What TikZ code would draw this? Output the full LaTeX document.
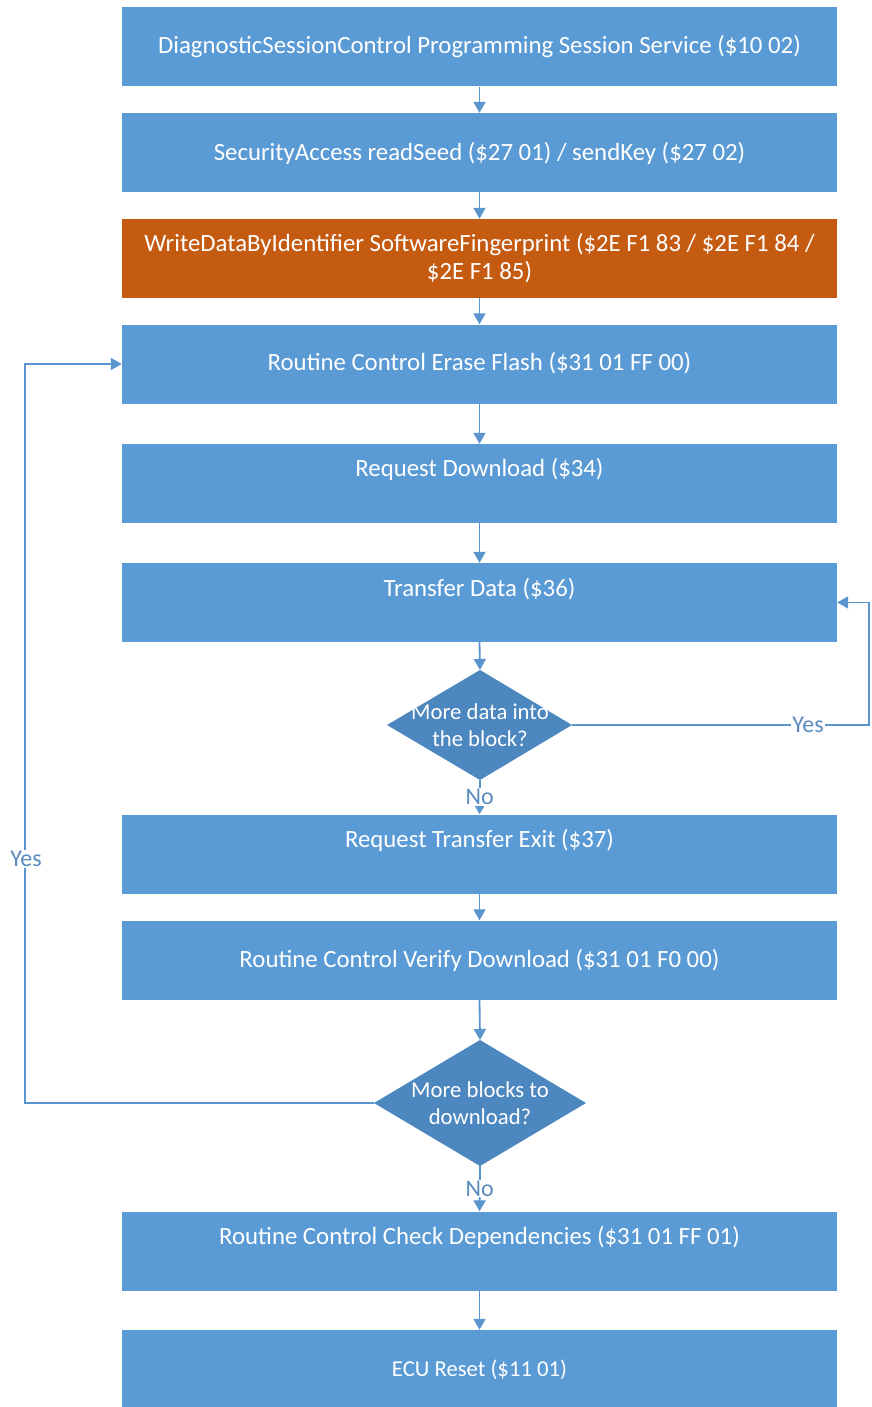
\documentclass[tikz,border=0pt]{standalone}
\usepackage{fontspec}
\setmainfont{Carlito}
\usetikzlibrary{arrows.meta}
\definecolor{boxblue}{HTML}{5B9BD5}
\definecolor{diablue}{HTML}{4C87C0}
\definecolor{boxorange}{HTML}{C55A11}
\definecolor{linkblue}{HTML}{5B95CF}
\definecolor{lblblue}{HTML}{5A8BBF}
\tikzset{
  x=1pt, y=-1pt,
  stepbox/.style={fill=boxblue, draw=none, minimum width=715pt, minimum height=79pt, inner sep=0pt},
  warnbox/.style={stepbox, fill=boxorange},
  txt/.style={text=white, font=\fontsize{24.8}{28}\selectfont, align=center, inner sep=0pt},
  qtxt/.style={txt, font=\fontsize{22.7}{27}\selectfont},
  lbl/.style={text=lblblue, font=\fontsize{24}{26}\selectfont, fill=white, inner sep=1pt},
  link/.style={draw=linkblue, line width=1.8pt, -{Triangle[width=12pt,length=11pt]}},
}
\begin{document}
\begin{tikzpicture}
\useasboundingbox (0,0) rectangle (872,1407);

% process boxes
\node[stepbox]  (b1)  at (479.5,47)   {};
\node[stepbox]  (b2)  at (479.5,152.5){};
\node[warnbox]  (b3)  at (479.5,258.5){};
\node[stepbox]  (b4)  at (479.5,364)  {};
\node[stepbox]  (b5)  at (479.5,483.5){};
\node[stepbox]  (b6)  at (479.5,602.5){};
\node[stepbox]  (b7)  at (479.5,854)  {};
\node[stepbox]  (b8)  at (479.5,960)  {};
\node[stepbox]  (b9)  at (479.5,1251) {};
\node[stepbox]  (b10) at (479.5,1369.5){};

% decisions
\path[fill=diablue] (480,670) -- (572,725) -- (480,780) -- (387,725) -- cycle;
\coordinate (d1n) at (480,670);
\coordinate (d1e) at (572,725);
\coordinate (d1s) at (480,780);
\path[fill=diablue] (480,1040) -- (586,1103) -- (480,1166) -- (374,1103) -- cycle;
\coordinate (d2n) at (480,1040);
\coordinate (d2w) at (374,1103);
\coordinate (d2s) at (480,1166);

% texts
\node[txt] (t1)  at (479.5,47)  {DiagnosticSessionControl Programming Session Service (\$10 02)};
\node[txt] (t2)  at (479.5,153) {SecurityAccess readSeed (\$27 01) / sendKey (\$27 02)};
\node[txt] (t3)  at (479.5,258) {WriteDataByIdentifier SoftwareFingerprint (\$2E F1 83 / \$2E F1 84 /\\ \$2E F1 85)};
\node[txt] (t4)  at (479.5,363) {Routine Control Erase Flash (\$31 01 FF 00)};
\node[txt] (t5)  at (479.5,469) {Request Download (\$34)};
\node[txt] (t6)  at (479.5,589) {Transfer Data (\$36)};
\node[txt] (t7)  at (479.5,840) {Request Transfer Exit (\$37)};
\node[txt] (t8)  at (479.5,960) {Routine Control Verify Download (\$31 01 F0 00)};
\node[txt] (t9)  at (479.5,1237){Routine Control Check Dependencies (\$31 01 FF 01)};
\node[qtxt] (t10) at (479.5,1370){ECU Reset (\$11 01)};
\node[qtxt] (q1)  at (480,725)   {More data into\\the block?};
\node[qtxt] (q2)  at (480,1103)  {More blocks to\\download?};

% flow
\draw[link] (b1.south) -- (b2.north);
\draw[link] (b2.south) -- (b3.north);
\draw[link] (b3.south) -- (b4.north);
\draw[link] (b4.south) -- (b5.north);
\draw[link] (b5.south) -- (b6.north);
\draw[link] (b6.south) -- (d1n);
\draw[link] (d1s) -- node[lbl] (n1) {No} (b7.north);
\draw[link] (b7.south) -- (b8.north);
\draw[link] (b8.south) -- (d2n);
\draw[link] (d2s) -- node[lbl] (n2) {No} (b9.north);
\draw[link] (b9.south) -- (b10.north);

% loops back
\coordinate (r1) at (869,725);
\coordinate (r2) at (869,602.5);
\draw[link] (d1e) -- (r1) -- (r2) -- (b6.east);
\node[lbl] (y1) at (808,725) {Yes};
\coordinate (l1) at (25,1103);
\coordinate (l2) at (25,364);
\draw[link] (d2w) -- (l1) -- (l2) -- (b4.west);
\node[lbl] (y2) at (26,859) {Yes};
\end{tikzpicture}
\end{document}
